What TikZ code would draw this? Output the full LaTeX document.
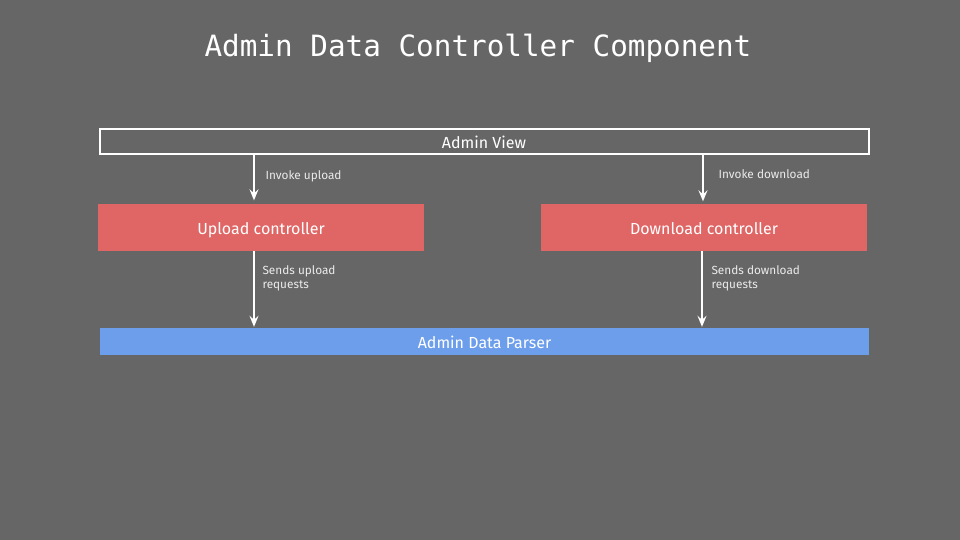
\documentclass[tikz,border=0pt]{standalone}
\usepackage{fontspec}
\setmainfont{Fira Sans}
\newfontfamily\titlefont{DejaVu Sans Mono}
\usetikzlibrary{arrows.meta}
\definecolor{bg}{HTML}{666666}
\definecolor{ctrl}{HTML}{E06666}
\definecolor{parser}{HTML}{6D9EEB}
\begin{document}
\begin{tikzpicture}[x=1pt,y=-1pt,
  boxtext/.style={font=\fontsize{16}{18}\selectfont, text=white, text height=13pt, text depth=0pt},
  lbl/.style={font=\fontsize{11.8}{14.5}\selectfont, text=white!92!black, anchor=west, align=left},
  arr/.style={draw=white, line width=1.4pt, -{Stealth[length=11pt,width=9pt,inset=4pt]}}
]
\fill[bg] (0,0) rectangle (960,540);
\useasboundingbox (0,0) rectangle (960,540);
\node[font=\titlefont\fontsize{29.3}{32}\selectfont, text=white] (title) at (478,48) {Admin Data Controller Component};
\node[draw=white, line width=2pt, minimum width=769pt, minimum height=25pt, inner sep=0pt, boxtext] (view) at (484,142) {Admin View};
\node[fill=ctrl, minimum width=326pt, minimum height=47pt, inner sep=0pt, boxtext] (up) at (261,227.5) {Upload controller};
\node[fill=ctrl, minimum width=326pt, minimum height=47pt, inner sep=0pt, boxtext] (down) at (704,227.5) {Download controller};
\node[fill=parser, minimum width=769pt, minimum height=27pt, inner sep=0pt, boxtext] (parser) at (484.5,341.5) {Admin Data Parser};
\coordinate (xu) at (254,0);
\coordinate (xd1) at (703,0);
\coordinate (xd2) at (702,0);
\draw[arr, shorten >=3.5pt] (view.south -| xu) -- (up.north -| xu);
\draw[arr, shorten >=2.5pt] (view.south -| xd1) -- (down.north -| xd1);
\draw[arr, shorten >=1pt] (up.south -| xu) -- (parser.north -| xu);
\draw[arr, shorten >=1pt] (down.south -| xd2) -- (parser.north -| xd2);
\node[lbl] (l1) at (262,176) {Invoke upload};
\node[lbl] (l2) at (715,174) {Invoke download};
\node[lbl] (l3) at (259,278.5) {Sends upload\\requests};
\node[lbl] (l4) at (708,278.5) {Sends download\\requests};
\end{tikzpicture}
\end{document}
